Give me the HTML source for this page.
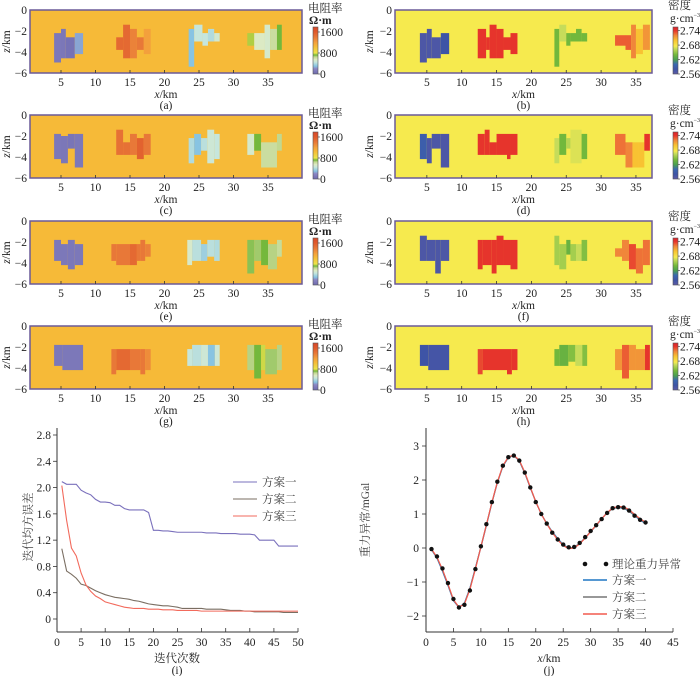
<!DOCTYPE html>
<html><head><meta charset="utf-8"><style>
html,body{margin:0;padding:0;background:#fff;}
svg{display:block;font-family:"Liberation Serif","Noto Serif CJK SC",serif;}
</style></head><body>
<svg id="fig" width="700" height="676" viewBox="0 0 700 676" xmlns="http://www.w3.org/2000/svg"></svg>
<script>
// ---------- data: model panels (cells: [x0,x1,ztop,zbot,value]) ----------
const panelLabels = ["(a)","(b)","(c)","(d)","(e)","(f)","(g)","(h)"];
const resBackground = 1050;
const denBackground = 2.676;
const cellsA = [[4,5,-2.2,-5,100],[5,5.7,-1.8,-4.6,90],[5.7,7,-2.6,-4.6,60],[7,8.2,-2.2,-4.2,250],
 [13,14,-2.6,-3.8,1500],[14,15,-1.4,-4.6,1500],[15,16,-1.8,-4.6,1350],[16,17,-2.6,-3.8,1400],[17,18,-1.8,-4.2,1200],
 [23.5,24.3,-1.8,-5.4,300],[24.3,25.5,-1.4,-3,450],[25.5,26.3,-2.2,-3.4,450],[26.3,27.2,-1.8,-3,400],[27.2,28,-2.2,-3,500],
 [32,33,-2.2,-3.4,760],[33,34.5,-2.2,-3.8,550],[34.5,35.3,-1.4,-4.6,520],[35.3,36.3,-1.8,-3.8,620],[36.3,37,-1.4,-3.8,720]];
const cellsC = [[4,5,-1.8,-4.2,100],[5,6,-2,-4.6,90],[6,7,-1.8,-3.2,80],[7,8.2,-1.8,-5,100],
 [13,14,-1.4,-3.8,1450],[14,15,-2.6,-3.8,1450],[15,16,-1.8,-3.8,1400],[16,17,-2.2,-4.2,1550],[17,18,-1.8,-3.8,1400],
 [23.5,24.3,-2.2,-4.6,400],[24.3,25.3,-1.8,-3.8,300],[25.3,26.2,-2.2,-3.4,420],[26.2,27.2,-1.4,-4.6,480],[27.2,28,-1.8,-4.2,450],
 [32,33,-1.8,-3.8,520],[33,34,-1.8,-3.4,720],[34,36.3,-2.6,-5,620],[36.3,37,-1.8,-3.4,650]];
const cellsE = [[4,5,-1.8,-3.8,100],[5,6,-2.2,-4.2,100],[6,7,-1.8,-4.6,100],[7,8.2,-2.2,-4.2,100],
 [12.3,13,-2.2,-3.8,1400],[13,15,-2.2,-4.2,1400],[15,16,-2.2,-4.2,1500],[16,16.5,-2.2,-3.8,1400],[16.5,17.2,-1.8,-3.8,1400],[17.2,18,-2.2,-3.4,1350],
 [23.3,24,-1.8,-4.2,530],[24,25.3,-1.8,-3.8,420],[25.3,26.2,-2.2,-3.8,350],[26.2,27.2,-1.8,-3.4,420],[27.2,28,-1.8,-3.8,400],
 [32,33,-1.8,-5,700],[33,34,-1.8,-3.8,680],[34,35,-1.8,-4.2,720],[35,36.3,-2.2,-4.6,660],[36.3,37,-1.8,-3.4,630]];
const cellsG = [[4,5.2,-1.8,-3.8,100],[5.2,8.2,-1.8,-4.2,100],
 [12.3,13,-2.2,-4.6,1400],[13,15,-2.2,-4.2,1500],[15,16.5,-2.2,-4.2,1400],[16.5,17.2,-2.2,-4.6,1400],[17.2,18,-2.2,-4.2,1300],
 [23.3,24,-2.2,-3.8,450],[24,25.3,-1.8,-3.8,420],[25.3,26.3,-1.8,-3.8,480],[26.3,27.3,-1.8,-3.8,300],[27.3,28,-1.8,-3.8,480],
 [32,33,-1.8,-4.2,660],[33,34,-1.8,-5,720],[34,34.6,-1.8,-4.2,780],[34.6,36.3,-2.2,-4.6,680],[36.3,37,-1.8,-4.2,660]];
const cellsB = [[4,5,-2.2,-5,2.57],[5,5.7,-1.8,-4.6,2.57],[5.7,7,-2.6,-4.6,2.57],[7,8.2,-2.2,-4.2,2.58],
 [12.3,13.5,-1.8,-4.6,2.74],[13.5,14,-2.6,-3.8,2.74],[14,15,-1.4,-4.6,2.74],[15,16,-1.8,-4.6,2.74],[16,17,-2.6,-3.8,2.74],[17,18,-2.2,-4.2,2.74],
 [23.3,24,-1.8,-5.4,2.64],[24,25,-1.4,-3,2.665],[25,25.6,-2.2,-3.4,2.64],[25.6,26.4,-2.2,-3,2.64],[26.4,27.2,-1.8,-3,2.64],[27.2,28,-2.2,-3,2.64],
 [32,33.5,-2.4,-3.4,2.73],[33.5,34.3,-2.4,-3.8,2.73],[34.3,35,-1.4,-4.6,2.72],[35,36,-1.8,-4.2,2.70],[36,37,-1.4,-3.8,2.715]];
const cellsD = [[4,5,-1.8,-4.2,2.59],[5,5.7,-2.2,-4.6,2.57],[5.7,7,-1.8,-3.2,2.57],[7,8.2,-1.8,-5,2.57],
 [12.3,13.3,-1.8,-3.8,2.74],[13.3,14,-1.4,-3.8,2.74],[14,15,-2.6,-3.8,2.74],[15,16.5,-1.8,-3.8,2.74],[16.5,17,-1.8,-4.2,2.74],[17,18,-1.8,-3.8,2.74],
 [23.3,24,-2.2,-4.6,2.665],[24,25,-1.8,-3.8,2.64],[25,25.6,-2.2,-3.2,2.66],[25.6,26.4,-1.4,-4.6,2.67],[26.4,27.2,-1.4,-4.6,2.67],[27.2,28,-1.8,-4.2,2.64],
 [32,33.5,-1.8,-3.8,2.725],[33.5,34.5,-2.6,-5,2.72],[34.5,35.3,-2.6,-5,2.70],[35.3,36.2,-2.6,-5,2.70],[36.2,37,-1.8,-3.4,2.74]];
const cellsF = [[4,5,-1.4,-3.8,2.57],[5,6.2,-1.8,-3.8,2.57],[6.2,7,-1.8,-5,2.57],[7,8.2,-1.8,-3.8,2.57],
 [12.3,13,-1.8,-4.6,2.74],[13,14.3,-1.8,-4.2,2.74],[14.3,15,-1.8,-5,2.74],[15,16,-1.4,-4.2,2.74],[16,17,-1.8,-4.2,2.74],[17,18,-1.8,-4.6,2.74],
 [23.3,24,-1.4,-4.2,2.655],[24,25,-2.2,-4.6,2.655],[25,25.6,-1.8,-3.2,2.635],[25.6,26.4,-2.2,-3.8,2.655],[26.4,27.2,-2.2,-3.8,2.665],[27.2,28,-1.8,-3.8,2.645],
 [32,33,-2.6,-3.4,2.72],[33,34,-1.8,-3.8,2.72],[34,35,-2.2,-4.6,2.735],[35,36,-2.6,-5,2.725],[36,37,-1.8,-4.2,2.725]];
const cellsH = [[4,5.2,-1.8,-3.8,2.58],[5.2,8.2,-1.8,-4.2,2.575],
 [12.3,13,-2.2,-4.6,2.735],[13,16.5,-2.2,-4.2,2.74],[16.5,17.2,-2.2,-4.6,2.74],[17.2,18,-2.2,-4.2,2.74],
 [23.3,24,-2.2,-3.8,2.64],[24,25.3,-1.8,-3.8,2.635],[25.3,26.3,-1.8,-3.4,2.645],[26.3,27.3,-1.8,-3.8,2.665],[27.3,28,-1.8,-3.8,2.645],
 [32,33,-2.2,-4.2,2.715],[33,34,-1.8,-5,2.73],[34,35,-1.8,-4.2,2.715],[35,36.3,-2.2,-4.2,2.715],[36.3,37,-1.8,-4.2,2.74]];
const modelXTicks = [5,10,15,20,25,30,35];
const modelZTicks = [0,-2,-4,-6];
const resBarTicks = [1600,800,0];
const denBarTicks = [2.74,2.68,2.62,2.56];

// ---------- data: misfit chart (i) ----------
const iterations = Array.from({length:50},(_,i)=>i+1);
const misfit1 = [2.09,2.05,2.05,2.05,1.96,1.92,1.89,1.82,1.78,1.78,1.77,1.73,1.73,1.68,1.66,1.66,1.66,1.66,1.62,1.35,
 1.35,1.34,1.34,1.33,1.32,1.32,1.32,1.32,1.32,1.32,1.31,1.31,1.31,1.30,1.30,1.30,1.30,1.29,1.29,1.29,
 1.28,1.20,1.20,1.20,1.20,1.11,1.11,1.11,1.11,1.11];
const misfit2 = [1.07,0.73,0.68,0.62,0.53,0.51,0.47,0.43,0.40,0.37,0.35,0.33,0.32,0.31,0.30,0.28,0.27,0.25,0.23,0.22,
 0.21,0.20,0.20,0.19,0.18,0.16,0.16,0.16,0.16,0.16,0.15,0.15,0.15,0.15,0.14,0.13,0.13,0.13,0.12,0.12,
 0.11,0.11,0.11,0.11,0.11,0.11,0.10,0.10,0.10,0.10];
const misfit3 = [2.03,1.50,1.08,0.96,0.70,0.52,0.42,0.35,0.31,0.26,0.24,0.22,0.20,0.18,0.17,0.16,0.16,0.16,0.15,0.15,
 0.15,0.14,0.14,0.14,0.13,0.13,0.13,0.13,0.13,0.12,0.12,0.12,0.12,0.12,0.12,0.12,0.12,0.12,0.12,0.12,
 0.12,0.12,0.12,0.12,0.12,0.12,0.12,0.12,0.12,0.12];
const misfitYTicks = [0,0.4,0.8,1.2,1.6,2.0,2.4,2.8];
const misfitXTicks = [0,5,10,15,20,25,30,35,40,45,50];
const seriesNames = ["方案一","方案二","方案三"];

// ---------- data: gravity chart (j) ----------
const gravX = Array.from({length:40},(_,i)=>i+1);
const gravTheory = [-0.03,-0.25,-0.6,-1.03,-1.5,-1.75,-1.67,-1.25,-0.62,0.05,0.7,1.35,1.95,2.42,2.67,2.72,2.57,2.22,1.78,1.35,
 1.0,0.72,0.45,0.25,0.1,0.02,0.03,0.15,0.32,0.5,0.67,0.85,1.03,1.17,1.2,1.19,1.1,0.95,0.83,0.75];
const grav1 = [-0.05,-0.3,-0.68,-1.1,-1.55,-1.75,-1.62,-1.18,-0.58,0.02,0.66,1.32,1.92,2.4,2.66,2.72,2.56,2.2,1.77,1.36,
 1.0,0.72,0.48,0.28,0.1,0.0,0.02,0.14,0.3,0.48,0.66,0.86,1.04,1.16,1.19,1.17,1.08,0.95,0.82,0.72];
const grav2 = [-0.04,-0.28,-0.64,-1.07,-1.53,-1.74,-1.64,-1.2,-0.6,0.04,0.68,1.33,1.93,2.41,2.67,2.72,2.57,2.21,1.78,1.36,
 1.0,0.72,0.47,0.26,0.08,0.0,0.02,0.14,0.3,0.49,0.67,0.86,1.03,1.16,1.2,1.18,1.09,0.96,0.84,0.74];
const grav3 = [-0.03,-0.27,-0.63,-1.06,-1.52,-1.74,-1.65,-1.22,-0.62,0.03,0.68,1.34,1.94,2.42,2.68,2.73,2.58,2.23,1.79,1.36,
 1.0,0.71,0.45,0.24,0.07,-0.02,0.0,0.12,0.29,0.48,0.67,0.86,1.04,1.18,1.22,1.21,1.13,0.99,0.86,0.76];
const gravYTicks = [-2,-1,0,1,2,3];
const gravXTicks = [0,5,10,15,20,25,30,35,40,45];

// ---------- helpers ----------
const NS="http://www.w3.org/2000/svg";
const svg=document.getElementById('fig');
function mk(tag,attrs,parent){const e=document.createElementNS(NS,tag);for(const k in attrs)e.setAttribute(k,attrs[k]);(parent||svg).appendChild(e);return e;}
function txt(s,x,y,size,anchor,parent,extra){const t=mk('text',Object.assign({x:x,y:y,'font-size':size,'text-anchor':anchor||'middle',fill:'#222'},extra||{}),parent);t.textContent=s;return t;}
function hex(c){return [parseInt(c.slice(1,3),16),parseInt(c.slice(3,5),16),parseInt(c.slice(5,7),16)];}
function cmap(stops,v){if(v<=stops[0][0])return stops[0][1];for(let i=1;i<stops.length;i++){if(v<=stops[i][0]){const a=stops[i-1],b=stops[i];const t=(v-a[0])/(b[0]-a[0]);const ca=hex(a[1]),cb=hex(b[1]);return 'rgb('+ca.map((c,j)=>Math.round(c+(cb[j]-c)*t)).join(',')+')';}}return stops[stops.length-1][1];}
const resStops=[[0,'#6e6aae'],[200,'#8a86c4'],[300,'#88c4e2'],[450,'#c6e6dc'],[550,'#dceac4'],[650,'#c2d890'],[720,'#74b83c'],[800,'#ece44a'],[1050,'#f6ba38'],[1200,'#f3a03c'],[1400,'#e87838'],[1600,'#e05a2c'],[1790,'#d8482a']];
const denStops=[[2.56,'#5c5aa6'],[2.58,'#3e54a6'],[2.60,'#3a68b0'],[2.62,'#4aa050'],[2.64,'#72b83c'],[2.665,'#c6dc5a'],[2.676,'#f6ea4e'],[2.70,'#f8c232'],[2.72,'#f0863a'],[2.74,'#e6342c'],[2.76,'#d8202a']];

const resPanels=[cellsA,cellsC,cellsE,cellsG];
const denPanels=[cellsB,cellsD,cellsF,cellsH];
const rowTops=[10,115,221,326];
const PH=63;

function drawModel(cells,left,top,isRes,label,idx){
  const g=mk('g',{});
  
  
  const x0=isRes?26.5:392, kx=isRes?6.9:6.97, right=isRes?302:652, L=isRes?30:395;
  const X=x=>x0+kx*x, Z=z=>top+(-z)*PH/6;
  const bg=mk('rect',{x:L,y:top,width:right-L,height:PH,fill:isRes?cmap(resStops,resBackground):cmap(denStops,denBackground)},g);
  
  
  cells.forEach(c=>{
    const r=mk('rect',{x:X(c[0]),y:Z(c[2]),width:X(c[1])-X(c[0]),height:Z(c[3])-Z(c[2]),fill:isRes?cmap(resStops,c[4]):cmap(denStops,c[4])},g);
    
    
  });
  mk('rect',{x:L,y:top,width:right-L,height:PH,fill:'none',stroke:'#6a5a98','stroke-width':1.5},g);
  modelXTicks.forEach(t=>{mk('line',{x1:X(t),x2:X(t),y1:top+PH,y2:top+PH-3,stroke:'#333','stroke-width':0.8},g);txt(String(t),X(t),top+PH+13,11.5,'middle',g);});
  modelZTicks.forEach(t=>{txt(t===0?'0':'−'+(-t),L-3,Z(t)+4,11.5,'end',g);});
  const zl=txt('',isRes?10:373,top+PH/2,11.5,'middle',g,{transform:'rotate(-90 '+(isRes?10:373)+' '+(top+PH/2)+')'});
  zl.innerHTML='<tspan font-style="italic">z</tspan>/km';
  
  
  const cx=(L+right)/2;
  const xl=txt('',cx,top+PH+25,11.5,'middle',g);xl.innerHTML='<tspan font-style="italic">x</tspan>/km';
  
  
  const pl=txt(label,cx,top+PH+36,11.5,'middle',g);
  
  
  // colorbar
  const cb=mk('g',{},g);
  
  
  const bx=isRes?313:673, by0=top+17, by1=top+64;
  const vmin=isRes?0:2.56, vmax=isRes?1790:2.755;
  for(let i=0;i<47;i++){const v=vmin+(vmax-vmin)*(1-(i+0.5)/47);mk('rect',{x:bx,y:by0+i,width:5,height:1.05,fill:isRes?cmap(resStops,v):cmap(denStops,v)},cb);}
  mk('rect',{x:bx,y:by0,width:5,height:47,fill:'none',stroke:'#555','stroke-width':0.6},cb);
  const ticks=isRes?resBarTicks:denBarTicks;
  ticks.forEach(t=>{const yy=by1-(t-vmin)/(vmax-vmin)*47;mk('line',{x1:bx+5,x2:bx+7,y1:yy,y2:yy,stroke:'#333','stroke-width':0.6},cb);txt(isRes?String(t):t.toFixed(2),bx+7,yy+4,11.5,'start',cb);});
  if(isRes){txt('电阻率',bx-5,top+2,11.5,'start',cb);txt('Ω·m',bx-4,top+14,11.5,'start',cb,{'font-weight':'bold'});}
  else{txt('密度',bx-5,top-1,11.5,'start',cb);const u=txt('',bx-3,top+12,11.5,'start',cb);u.innerHTML='g·cm<tspan font-size="6" dy="-5">−3</tspan>';}
}
for(let r=0;r<4;r++){drawModel(resPanels[r],0,rowTops[r],true,panelLabels[2*r],r);drawModel(denPanels[r],0,rowTops[r],false,panelLabels[2*r+1],r);}

// ---------- chart (i) ----------
(function(){
  const g=mk('g',{});
  const X=v=>57+(298-57)*v/50, Y=v=>619-v*(619-435)/2.8;
  mk('line',{x1:57,x2:57,y1:428,y2:632,stroke:'#333','stroke-width':1},g);
  mk('line',{x1:57,x2:298,y1:632,y2:632,stroke:'#333','stroke-width':1},g);
  misfitYTicks.forEach(t=>{mk('line',{x1:53,x2:57,y1:Y(t),y2:Y(t),stroke:'#333','stroke-width':0.8},g);txt(t===0?'0':t.toFixed(1),51,Y(t)+4,11.5,'end',g);});
  misfitXTicks.forEach(t=>{mk('line',{x1:X(t),x2:X(t),y1:632,y2:628,stroke:'#333','stroke-width':0.8},g);txt(String(t),X(t),646,11.5,'middle',g);});
  const colors=['#7a70bc','#7a6e62','#f26a5c'];
  [misfit1,misfit2,misfit3].forEach((s,k)=>{
    const p=mk('polyline',{points:s.map((v,i)=>X(iterations[i])+','+Y(v)).join(' '),fill:'none',stroke:colors[k],'stroke-width':1.1},g);
    
    
    const ly=482+k*17;
    const le=mk('g',{},g);
    
    
    mk('line',{x1:233,x2:257,y1:ly,y2:ly,stroke:colors[k],'stroke-width':1.1},le);
    txt(seriesNames[k],262,ly+4,11.5,'start',le,{fill:'#444'});
  });
  const yl=txt('迭代均方误差',32,527,11.5,'middle',g,{transform:'rotate(-90 32 527)',fill:'#444'});
  
  const xl=txt('迭代次数',177,662,11.5,'middle',g);
  
  txt('(i)',177,674,11.5,'middle',g);
})();

// ---------- chart (j) ----------
(function(){
  const g=mk('g',{});
  const X=v=>426+v*(673-426)/45, Y=v=>548-v*34;
  mk('line',{x1:426,x2:426,y1:428,y2:632,stroke:'#333','stroke-width':1},g);
  mk('line',{x1:426,x2:673,y1:632,y2:632,stroke:'#333','stroke-width':1},g);
  gravYTicks.forEach(t=>{mk('line',{x1:422,x2:426,y1:Y(t),y2:Y(t),stroke:'#333','stroke-width':0.8},g);txt(t<0?'−'+(-t):String(t),419,Y(t)+4,11.5,'end',g);});
  gravXTicks.forEach(t=>{mk('line',{x1:X(t),x2:X(t),y1:632,y2:628,stroke:'#333','stroke-width':0.8},g);txt(String(t),X(t),646,11.5,'middle',g);});
  const colors=['#1f77c4','#777777','#f25a4e'];
  [grav1,grav2,grav3].forEach((s,k)=>{
    const p=mk('polyline',{points:s.map((v,i)=>X(gravX[i])+','+Y(v)).join(' '),fill:'none',stroke:colors[k],'stroke-width':1.2},g);
    
    
  });
  gravTheory.forEach((v,i)=>{
    const c=mk('circle',{cx:X(gravX[i]),cy:Y(v),r:2.2,fill:'#111'},g);
    
    
  });
  const l0=mk('g',{},g);
  
  
  mk('circle',{cx:585,cy:564,r:2.3,fill:'#111'},l0);mk('circle',{cx:606,cy:564,r:2.3,fill:'#111'},l0);
  txt('理论重力异常',612,568,11.5,'start',l0,{fill:'#444'});
  seriesNames.forEach((n,k)=>{
    const ly=580+k*17;
    const le=mk('g',{},g);
    
    
    mk('line',{x1:583,x2:607,y1:ly,y2:ly,stroke:colors[k],'stroke-width':1.5},le);
    txt(n,612,ly+4,11.5,'start',le,{fill:'#444'});
  });
  const yl=txt('重力异常/mGal',369,520,11.5,'middle',g,{transform:'rotate(-90 369 520)',fill:'#444'});
  
  const xl=txt('',549,662,11.5,'middle',g);xl.innerHTML='<tspan font-style="italic">x</tspan>/km';
  
  txt('(j)',549,674,11.5,'middle',g);
})();
</script>
</body></html>
